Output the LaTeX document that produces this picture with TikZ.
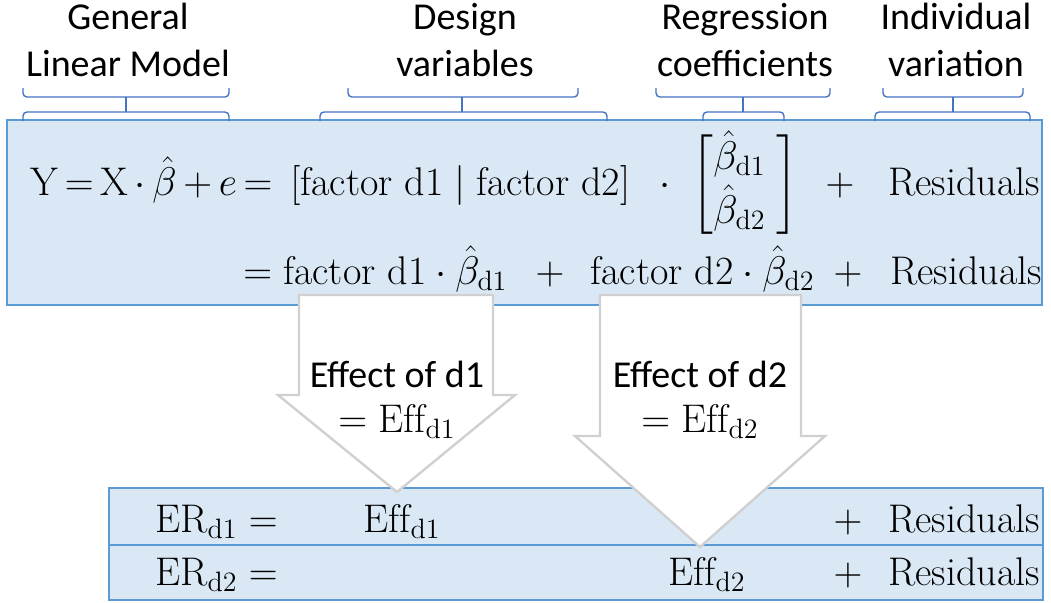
\documentclass[tikz,border=0pt]{standalone}
\usepackage{fix-cm}
\usepackage{amsmath}
\usepackage{fontspec}
\newfontfamily\calibri{Carlito}
\definecolor{boxfill}{RGB}{218,232,245}
\definecolor{boxline}{RGB}{91,155,213}
\definecolor{bracecol}{RGB}{68,114,196}
\definecolor{arrowline}{RGB}{208,208,208}
\tikzset{
  eqtext/.style={inner sep=0pt, font=\fontsize{20}{24}\selectfont},
  labeltext/.style={inner sep=0pt, align=center, font=\calibri\fontsize{19}{23.5}\selectfont},
  eqbox/.style={fill=boxfill, draw=boxline, line width=1pt},
  bracket/.style={draw=bracecol, line width=0.7pt, rounded corners=2pt},
  blockarrow/.style={fill=white, draw=arrowline, line width=1.2pt}
}
\newcommand{\bh}[1]{\hat{\beta}_{\mathrm{#1}}}
\begin{document}
\begin{tikzpicture}[x=0.5pt, y=-0.5pt]
    \useasboundingbox (0,0) rectangle (1051,602);
    % 方框
    \path[eqbox] (7,120) rectangle (1042,305);
    \path[eqbox] (109,488) rectangle (1043,545);
    \path[eqbox] (109,545) rectangle (1043,600);
    % 顶部标签
    \node[labeltext, anchor=base] (glm) at (128,76) {General\\Linear Model};
    \node[labeltext, anchor=base] (design) at (465,76) {Design\\variables};
    \node[labeltext, anchor=base] (coef) at (745,76) {Regression\\coefficients};
    \node[labeltext, anchor=base] (indiv) at (956,76) {Individual\\variation};
    % 括号
    \foreach \a/\b/\c/\d/\m in {23/229/23/229/126, 348/578/320/607/462,
                                656/830/703/784/743, 883/1023/875/1030/953} {
      \draw[bracket] (\a,88) -- (\a,97) -- (\b,97) -- (\b,88);
      \draw[bracecol, line width=0.7pt] (\m,97) -- (\m,112);
      \draw[bracket] (\c,121) -- (\c,112) -- (\d,112) -- (\d,121);
    }
    % 第一行
    \node[eqtext, anchor=base west] (lhs) at (30,195)
        {$\thickmuskip=3mu\medmuskip=3mu\mathrm{Y}=\mathrm{X}\cdot\hat{\beta}+e=$};
    \node[eqtext, anchor=base west] (design1) at (290,195) {$[\mathrm{factor\ d1}\mid\mathrm{factor\ d2}]$};
    \node[eqtext, anchor=base] (dot1) at (665,195) {$\cdot$};
    \node[eqtext, anchor=center] (betas) at (745,185) {$\renewcommand{\arraystretch}{1.1}\begin{bmatrix}\bh{d1}\;\\\bh{d2}\;\end{bmatrix}$};
    \node[eqtext, anchor=base] (plus1) at (840,195) {$+$};
    \node[eqtext, anchor=base west] (res1) at (888,195) {$\mathrm{Residuals}$};
    % 第二行
    \node[eqtext, anchor=base west] (term1) at (243,284) {$=\mathrm{factor\ d1}\cdot\bh{d1}$};
    \node[eqtext, anchor=base] (plus2) at (550,284) {$+$};
    \node[eqtext, anchor=base west] (term2) at (590,284) {$\mathrm{factor\ d2}\cdot\bh{d2}$};
    \node[eqtext, anchor=base] (plus3) at (848,284) {$+$};
    \node[eqtext, anchor=base west] (res2) at (890,284) {$\mathrm{Residuals}$};
    % 箭头
    \draw[blockarrow] (299,295) -- (493,295) -- (493,395) -- (515,395) -- (397,492)
        -- (278,395) -- (299,395) -- cycle;
    \draw[blockarrow] (600,295) -- (801,295) -- (801,436) -- (825,436) -- (700,547)
        -- (575,436) -- (600,436) -- cycle;
    \node[labeltext, anchor=base] (eff1) at (397,387) {Effect of d1};
    \node[eqtext, anchor=base] (eff1eq) at (397,432) {$=\mathrm{Eff}_{\mathrm{d1}}$};
    \node[labeltext, anchor=base] (eff2) at (700,387) {Effect of d2};
    \node[eqtext, anchor=base] (eff2eq) at (700,432) {$=\mathrm{Eff}_{\mathrm{d2}}$};
    % 底部两行
    \node[eqtext, anchor=base west] (er1) at (155,532) {$\mathrm{ER}_{\mathrm{d1}}=$};
    \node[eqtext, anchor=base west] (effd1) at (363,532) {$\mathrm{Eff}_{\mathrm{d1}}$};
    \node[eqtext, anchor=base] (plus4) at (848,532) {$+$};
    \node[eqtext, anchor=base west] (res3) at (888,532) {$\mathrm{Residuals}$};
    \node[eqtext, anchor=base west] (er2) at (155,585) {$\mathrm{ER}_{\mathrm{d2}}=$};
    \node[eqtext, anchor=base west] (effd2) at (668,585) {$\mathrm{Eff}_{\mathrm{d2}}$};
    \node[eqtext, anchor=base] (plus5) at (848,585) {$+$};
    \node[eqtext, anchor=base west] (res4) at (888,585) {$\mathrm{Residuals}$};
\end{tikzpicture}
\end{document}
